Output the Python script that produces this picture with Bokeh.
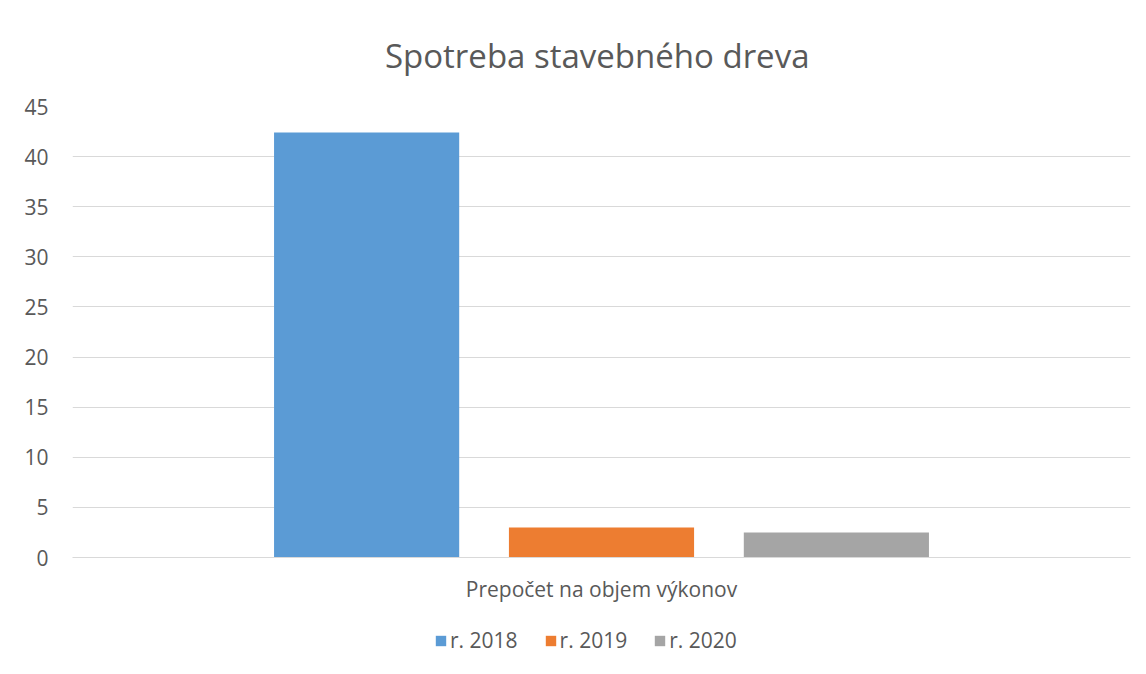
from bokeh.plotting import figure
from bokeh.layouts import column
from bokeh.models import FactorRange, Range1d, FixedTicker, Legend, LegendItem, ColumnDataSource
from bokeh.transform import dodge
from bokeh.embed import file_html
from bokeh.resources import INLINE

category = ["Prepočet na objem výkonov"]
series = ["r. 2018", "r. 2019", "r. 2020"]
values = [42.4, 3.0, 2.5]
colors = ["#5B9BD5", "#ED7D31", "#A5A5A5"]
offsets = [-0.222, 0.0, 0.222]
y_ticks = [0, 5, 10, 15, 20, 25, 30, 35, 40, 45]

FONT = "Open Sans"
TXT = "#595959"

p = figure(x_range=FactorRange(*category, range_padding=0), y_range=Range1d(0, 45),
           width=1146, height=610, output_backend="svg", toolbar_location=None,
           title="Spotreba stavebného  dreva",
           min_border_left=72, min_border_right=16, min_border_top=106, min_border_bottom=53)

for s, v, c, o in zip(series, values, colors, offsets):
    src = ColumnDataSource(dict(x=category, top=[v]))
    p.vbar(x=dodge("x", o, range=p.x_range), top="top", width=0.175, source=src,
           fill_color=c, line_color=None)

p.title.align = "center"
p.title.text_font = FONT
p.title.text_font_size = "33px"
p.title.text_font_style = "normal"
p.title.text_color = TXT
p.title.standoff = 58

p.outline_line_color = None
p.xgrid.grid_line_color = None
p.ygrid.grid_line_color = "#D9D9D9"
p.ygrid.grid_line_width = 1
p.yaxis.ticker = FixedTicker(ticks=y_ticks)
p.yaxis.axis_line_color = None
p.yaxis.major_tick_line_color = None
p.yaxis.minor_tick_line_color = None
p.yaxis.major_tick_out = 0
p.yaxis.major_label_standoff = 24
p.yaxis.major_label_text_font = FONT
p.yaxis.major_label_text_font_size = "21px"
p.yaxis.major_label_text_color = TXT

p.xaxis.axis_line_color = "#D9D9D9"
p.xaxis.major_tick_line_color = None
p.xaxis.major_tick_out = 0
p.xaxis.major_label_standoff = 17
p.xaxis.major_label_text_font = FONT
p.xaxis.major_label_text_font_size = "21px"
p.xaxis.major_label_text_color = TXT

# legend strip below the chart (its bars lie outside its visible range)
lg = figure(width=1146, height=64, x_range=FactorRange(*category), y_range=Range1d(1000, 1001),
            output_backend="svg", toolbar_location=None, x_axis_type=None, y_axis_type=None,
            min_border=0)
lg.outline_line_color = None
lg.xgrid.visible = False
lg.ygrid.visible = False
items = []
for s, v, c in zip(series, values, colors):
    src = ColumnDataSource(dict(x=category, top=[v]))
    r = lg.vbar(x="x", top="top", width=0.1, source=src, fill_color=c, line_color=None)
    items.append(LegendItem(label=s, renderers=[r]))
legend = Legend(items=items, orientation="horizontal", location=(362, 20),
                glyph_width=13, glyph_height=13, label_text_font=FONT,
                label_text_font_size="21px", label_text_color=TXT,
                spacing=26, label_standoff=3, border_line_color=None,
                background_fill_alpha=0, margin=0, padding=0)
lg.add_layout(legend)

layout = column(p, lg, spacing=0)
open("out.html", "w").write(file_html(layout, INLINE))
